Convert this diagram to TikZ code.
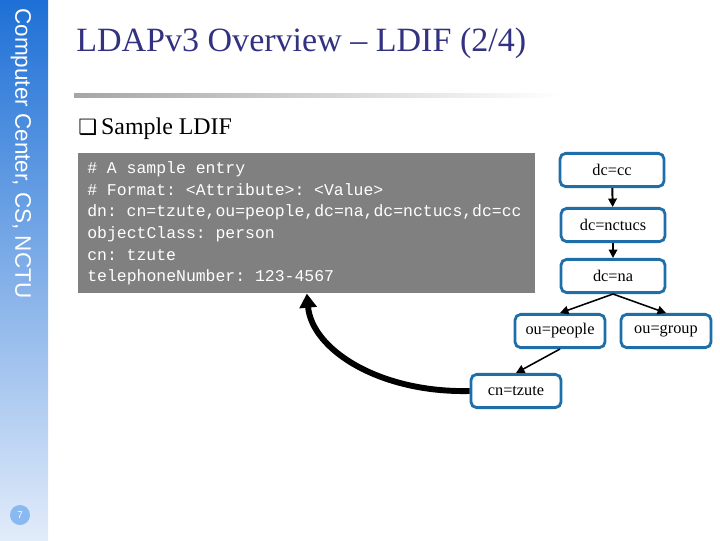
\documentclass[tikz,border=0pt]{standalone}
\usepackage{fontspec}
\setmainfont{Liberation Serif}
\setsansfont{Liberation Sans}
\setmonofont{Liberation Mono}
\newfontfamily\symfont{DejaVu Sans}
\usetikzlibrary{arrows.meta}

\definecolor{titleblue}{RGB}{50,50,128}
\definecolor{barblue}{RGB}{30,112,214}
\definecolor{barlight}{RGB}{226,236,250}
\definecolor{nodeblue}{RGB}{30,110,170}
\definecolor{codegray}{RGB}{128,128,128}
\definecolor{pageblue}{RGB}{138,184,240}

\newcommand\ldiffont{\ttfamily\fontsize{11.7}{15.4}\selectfont\spaceskip=7pt\xspaceskip=7pt\relax}

\begin{document}
\begin{tikzpicture}[
  x=0.025cm, y=-0.025cm,
  treenode/.style={
    draw=nodeblue,
    line width=2pt,
    rounded corners=4pt,
    fill=white,
    minimum height=0.83cm,
    minimum width=2.25cm,
    inner sep=2pt,
    font=\fontsize{11.6}{13}\selectfont
  },
  dcnode/.style={
    treenode,
    minimum width=2.6cm
  },
  codebox/.style={
    fill=codegray,
    text=white,
    align=flush left,
    text width=10.975cm,
    inner xsep=0.225cm,
    inner ysep=0.2cm,
    minimum height=3.5cm,
    font=\ldiffont
  },
  link/.style={
    -{Triangle[width=6pt,length=6pt]},
    line width=1.4pt
  },
  >=latex
]
\useasboundingbox (0,0) rectangle (720,540);

% side bar and page number
\shade[top color=barblue, bottom color=barlight] (0,0) rectangle (48,540);
\node[rotate=-90, anchor=west, text=white, font=\sffamily\fontsize{16}{18}\selectfont, inner sep=0pt] (side) at (21,8) {Computer Center, CS, NCTU};
\node[circle, fill=pageblue, text=white, minimum size=0.5cm, inner sep=0pt, font=\sffamily\fontsize{7}{8}\selectfont] (page) at (20,515) {7};

% title
\node[anchor=west, text=titleblue, inner sep=0pt, font=\fontsize{24.2}{28}\selectfont] (title) at (76,43) {LDAPv3 Overview -- LDIF (2/4)};
\shade[left color=black!35, right color=white] (74,93) rectangle (560,97);
\node[anchor=west, inner sep=0pt, font=\fontsize{17}{20}\selectfont] (bullet) at (78,129) {{\symfont\fontsize{15}{17}\selectfont ❑}\,Sample LDIF};

% sample entry
\node[codebox, anchor=north west] (code) at (78,153) {%
\# A sample entry\\
\# Format: <Attribute>: <Value>\\
dn: cn=tzute,ou=people,dc=na,dc=nctucs,dc=cc\\
objectClass: person\\
cn: tzute\\
telephoneNumber: 123-4567};

% directory tree
\node[dcnode] (cc) at (612,170) {dc=cc};
\node[dcnode] (nctucs) at (613,225) {dc=nctucs};
\node[dcnode] (na) at (613,276) {dc=na};
\node[treenode] (people) at (560,331) {ou=people};
\node[treenode] (group) at (666,331) {ou=group};
\node[treenode] (tzute) at (516,391) {cn=tzute};

\draw[link] (cc) -- (nctucs);
\draw[link] (nctucs) -- (na);
\draw[link, line width=1.1pt] (na.south) -- (people.north);
\draw[link, line width=1.1pt] (na.south) -- (group.north);
\draw[link, line width=1.1pt] (people.south) -- (tzute.north);
\draw[-{Triangle[width=12pt,length=10pt]}, line width=4.2pt] (tzute.west) .. controls (380,393) and (312,350) .. (code.south);
\end{tikzpicture}
\end{document}
